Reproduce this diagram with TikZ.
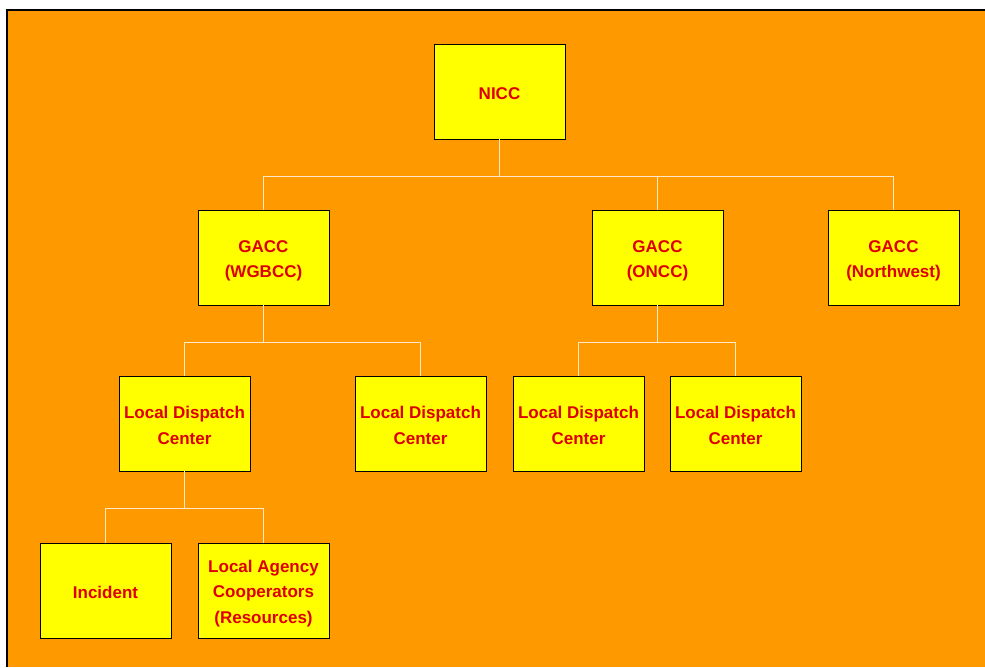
\documentclass[tikz,border=0pt]{standalone}
\usepackage{fontspec}
\setmainfont{Liberation Sans}
\usetikzlibrary{positioning}
\definecolor{slideorange}{HTML}{FF9900}
\definecolor{boxyellow}{HTML}{FFFF00}
\definecolor{labelred}{HTML}{DD0000}
\definecolor{linkcream}{HTML}{FFE8C8}
% every text line gets the same height and depth
\newcommand\boxstrut{\rule[-2pt]{0pt}{20.2pt}}
\def\boxrowheader{\hfil\boxstrut##\hfil\cr}

\begin{document}
\begin{tikzpicture}[
        x=1pt, y=-1pt,
        box/.style={
            rectangle,
            draw=black,
            line width=0.8pt,
            fill=boxyellow,
            minimum width=131pt,
            minimum height=95pt,
            inner sep=0pt,
            outer sep=0pt,
            align=center,
            node halign header=\boxrowheader,
            text=labelred,
            font=\bfseries\fontsize{17}{25.5}\selectfont
        },
        single/.style={
            box,
            execute at begin node=\boxstrut
        },
        link/.style={
            draw=linkcream,
            line width=1pt
        }
    ]
    \useasboundingbox (0,0) rectangle (985,667);

    % Background
    \fill[white] (0,0) rectangle (985,667);
    \fill[slideorange] (7,10) rectangle (985,667);
    \draw[black, line width=2pt] (7,667) -- (7,10) -- (985,10);

    % Boxes (top to bottom)
    \node[single] (nicc) at (499.5,91.5) {NICC};

    \node[box, below=71pt of nicc, xshift=-236pt] (wgbcc) {GACC\\(WGBCC)};
    \node[box, right=263pt of wgbcc] (oncc) {GACC\\(ONCC)};
    \node[box, right=105pt of oncc] (northwest) {GACC\\(Northwest)};

    \node[box, below=71pt of wgbcc, xshift=-79pt] (dispatchA) {Local Dispatch\\Center};
    \node[box, right=105pt of dispatchA] (dispatchB) {Local Dispatch\\Center};
    \node[box, below=71pt of oncc, xshift=-79pt] (dispatchC) {Local Dispatch\\Center};
    \node[box, right=26pt of dispatchC] (dispatchD) {Local Dispatch\\Center};

    \node[single, below=72pt of dispatchA, xshift=-79pt] (incident) {Incident};
    \node[box, right=27pt of incident] (agency) {Local Agency\\Cooperators\\(Resources)};

    % Links
    \foreach \kid in {wgbcc, oncc, northwest}
        \draw[link] (nicc.south) -- ++(0,37) -| (\kid.north);
    \foreach \kid in {dispatchA, dispatchB}
        \draw[link] (wgbcc.south) -- ++(0,37) -| (\kid.north);
    \foreach \kid in {dispatchC, dispatchD}
        \draw[link] (oncc.south) -- ++(0,37) -| (\kid.north);
    \foreach \kid in {incident, agency}
        \draw[link] (dispatchA.south) -- ++(0,37) -| (\kid.north);

\end{tikzpicture}
\end{document}
